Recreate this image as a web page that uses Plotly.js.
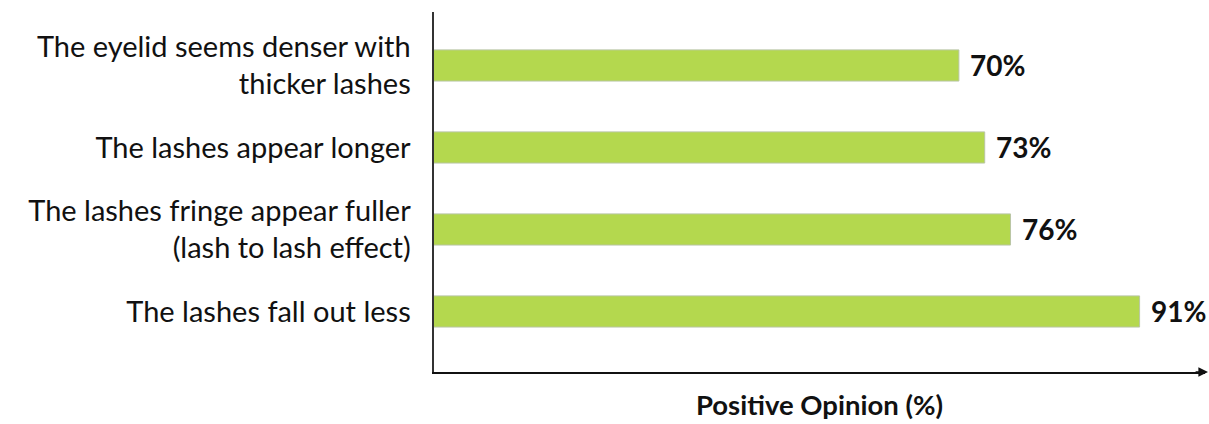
<!DOCTYPE html>
<html>
<head>
<meta charset="utf-8">
<script src="https://cdn.plot.ly/plotly-3.0.1.min.js"></script>
<style>
html,body{margin:0;padding:0;background:#fff;}
#chart{width:1209px;height:424px;}
</style>
</head>
<body>
<div id="chart"></div>
<script>
// Data (top-to-bottom order as in the reference)
const categories = [
  "The eyelid seems denser with<br>thicker lashes",
  "The lashes appear longer",
  "The lashes fringe appear fuller<br>(lash to lash effect)",
  "The lashes fall out less"
];
const values = [70, 73, 76, 91];
const valueLabels = ["70%", "73%", "76%", "91%"];
const xTitle = "Positive Opinion (%)";

const cats = categories.slice().reverse();
const vals = values.slice().reverse();
const labs = valueLabels.slice().reverse();

const font = "Lato, 'Open Sans', sans-serif";

const trace = {
  type: "bar",
  orientation: "h",
  x: vals,
  y: cats,
  width: 0.38,
  marker: {color: "#b4d84e", line: {color: "#b9c6a4", width: 1}},
  hoverinfo: "x+y"
};

const annotations = cats.map((c, i) => ({
  x: vals[i], y: c, xref: "x", yref: "y",
  text: "<b>" + labs[i] + "</b>",
  showarrow: false, xanchor: "left", xshift: 9,
  font: {family: font, size: 28, color: "#111"}
}));
// arrow head at the end of the x axis line
annotations.push({
  xref: "paper", yref: "paper", x: 1.004, y: 0,
  ax: -14, ay: 0, axref: "pixel", ayref: "pixel",
  showarrow: true, arrowhead: 2, arrowsize: 1.2, arrowwidth: 1.6,
  arrowcolor: "#111", text: ""
});

const layout = {
  width: 1209, height: 424,
  margin: {l: 434, r: 4, t: 12, b: 52},
  paper_bgcolor: "#fff", plot_bgcolor: "#fff",
  showlegend: false,
  xaxis: {
    range: [9, 98.6],
    showgrid: false, zeroline: false, showticklabels: false, ticks: "",
    showline: true, linecolor: "#111", linewidth: 1.6,
    title: {text: "<b>" + xTitle + "</b>", font: {family: font, size: 27.5, color: "#111"}, standoff: 23}
  },
  yaxis: {
    type: "category",
    categoryorder: "array", categoryarray: cats,
    range: [-0.738, 3.652],
    showgrid: false, zeroline: false,
    showline: true, linecolor: "#333", linewidth: 2.5,
    ticks: "outside", ticklen: 15, tickcolor: "rgba(0,0,0,0)",
    tickfont: {family: font, size: 29, color: "#111"}
  },
  annotations: annotations
};

Plotly.newPlot("chart", [trace], layout, {displayModeBar: false, staticPlot: true});
</script>
</body>
</html>
